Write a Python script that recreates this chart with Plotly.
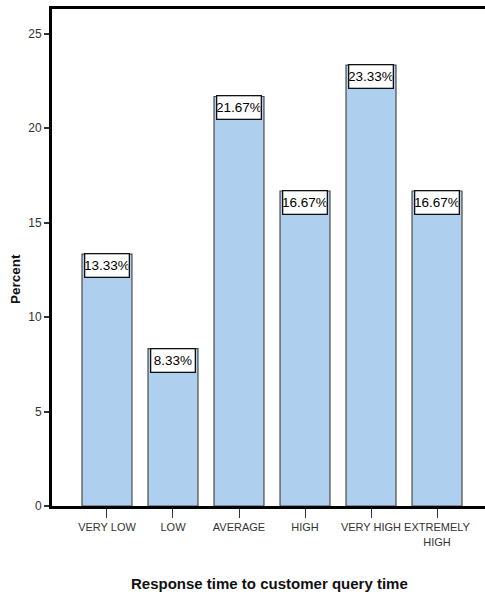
import plotly.graph_objects as go

categories = ["VERY LOW", "LOW", "AVERAGE", "HIGH", "VERY HIGH", "EXTREMELY<br>HIGH"]
percent = [13.33, 8.33, 21.67, 16.67, 23.33, 16.67]
y_ticks = [0, 5, 10, 15, 20, 25]

sans = "Liberation Sans, Arial, sans-serif"
x_pos = list(range(len(categories)))

fig = go.Figure()
fig.add_trace(go.Bar(
    x=x_pos, y=percent,
    marker=dict(color="#aecfee", line=dict(color="#4a4a4a", width=1.2)),
    width=0.757,
    hoverinfo="skip",
))

# value labels in white boxes hanging from the top of each bar
for xi, v in zip(x_pos, percent):
    fig.add_annotation(
        x=xi, y=v, xref="x", yref="y", yanchor="top", yshift=1,
        text=f"{v:.2f}%", showarrow=False,
        width=43, height=22,
        font=dict(family=sans, size=13.5, color="#000"),
        bgcolor="white", bordercolor="#111", borderwidth=1.3, borderpad=0,
    )

fig.add_annotation(
    text="<b>Response time to customer query time</b>", xref="paper", yref="paper",
    x=0.503, y=-0.155, xanchor="center", yanchor="middle", showarrow=False,
    font=dict(family=sans, size=15, color="#111"),
)
fig.add_annotation(
    text="<b>Percent</b>", xref="paper", yref="paper",
    x=-0.083, y=0.457, xanchor="center", yanchor="middle", showarrow=False, textangle=-90,
    font=dict(family=sans, size=13.5, color="#111"),
)

fig.update_layout(
    width=485, height=594,
    margin=dict(l=52, r=0, t=9, b=88),
    paper_bgcolor="white", plot_bgcolor="white",
    showlegend=False,
    xaxis=dict(
        range=[-0.833, 5.727], tickvals=x_pos, ticktext=categories,
        showline=True, linecolor="black", linewidth=3, mirror=True,
        ticks="outside", ticklen=9, tickcolor="#333", tickwidth=1,
        tickfont=dict(family=sans, size=11, color="#333"),
        showgrid=False, zeroline=False, fixedrange=True,
    ),
    yaxis=dict(
        range=[0, 26.3], tickvals=y_ticks,
        showline=True, linecolor="black", linewidth=3,
        ticks="outside", ticklen=5, tickcolor="#333", tickwidth=1.5,
        tickfont=dict(family=sans, size=12, color="#333"),
        showgrid=False, zeroline=False, fixedrange=True,
    ),
)

fig.write_html("out.html")
